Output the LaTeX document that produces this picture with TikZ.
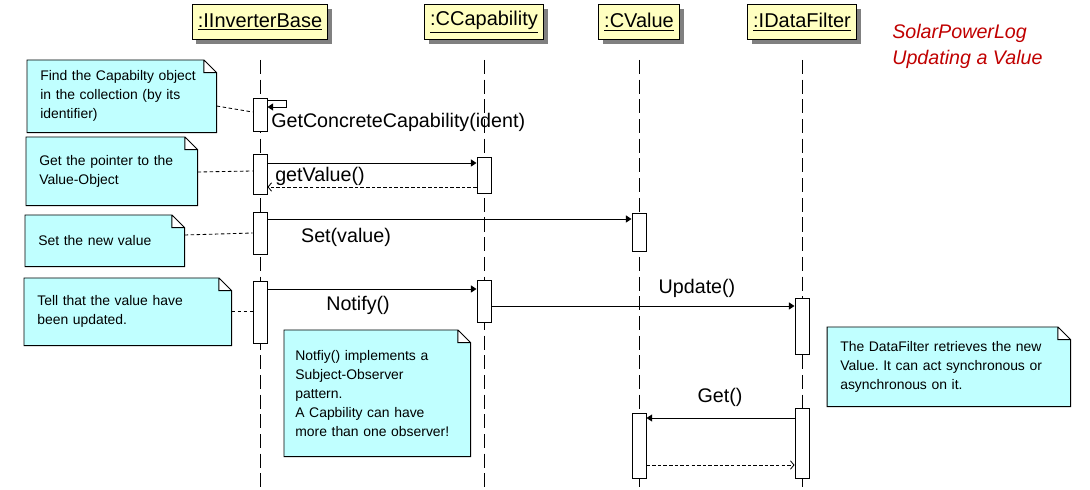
\documentclass[tikz,border=0pt]{standalone}
\usepackage{fontspec}
\setmainfont{Liberation Sans}
\usepackage{xcolor}
\usetikzlibrary{arrows.meta, positioning, shadows, backgrounds}
\frenchspacing

\definecolor{notecyan}{HTML}{C0FFFF}
\definecolor{headyellow}{HTML}{FFFFC0}
\definecolor{titlered}{HTML}{C00000}

\begin{document}
\begin{tikzpicture}[
  x=0.025cm, y=-0.025cm,
  obj/.style={rectangle, draw=black, fill=headyellow, line width=0.7pt, inner xsep=0.14cm, minimum height=0.875cm, font=\fontsize{14.2pt}{16pt}\selectfont, drop shadow={shadow xshift=3pt, shadow yshift=-3pt, fill=black!50, opacity=1}},
  lifeline/.style={line width=0.7pt, dash pattern=on 10pt off 4pt},
  act/.style={rectangle, draw=black, fill=white, line width=0.7pt, minimum width=0.35cm, inner sep=0pt, anchor=north},
  note/.style={rectangle, anchor=north west, inner xsep=0.325cm, inner ysep=0pt, align=left, font=\fontsize{9.9pt}{13.5pt}\selectfont},
  notebody/.style={fill=notecyan, draw=black, line width=0.7pt},
  lbl/.style={font=\fontsize{14pt}{16pt}\selectfont, inner sep=0pt},
  arrow/.style={line width=0.7pt, -{Triangle[length=4pt, width=5pt]}},
  reply/.style={line width=0.6pt, dash pattern=on 2.5pt off 1.5pt, -{Straight Barb[length=2.5pt, width=6pt]}},
  link/.style={line width=0.6pt, dash pattern=on 2.5pt off 1.8pt}
]
\useasboundingbox (0,0) rectangle (1090,490);

% Objects
\node (ib) [obj] at (260,22) {\underline{:IInverterBase}};
\node (cc) [obj] at (484,22) {\underline{:CCapability}};
\node (cv) [obj] at (639,22) {\underline{:CValue}};
\node (df) [obj] at (802,22) {\underline{:IDataFilter}};

\foreach \lf in {ib,cc,cv,df}
  \draw[lifeline] (\lf |- 0,60) -- (\lf |- 0,490);

% Activations
\node (ib1) [act, minimum height=0.825cm] at (260,98) {};
\node (ib2) [act, minimum height=1.0cm] at (260,154) {};
\node (ib3) [act, minimum height=1.05cm] at (260,212) {};
\node (ib4) [act, minimum height=1.55cm] at (260,281) {};
\node (cc1) [act, minimum height=0.9cm] at (484,157) {};
\node (cc2) [act, minimum height=1.05cm] at (484,280) {};
\node (cv1) [act, minimum height=0.95cm] at (639,213) {};
\node (cv2) [act, minimum height=1.625cm] at (639,413) {};
\node (df1) [act, minimum height=1.4cm] at (802,298) {};
\node (df2) [act, minimum height=1.75cm] at (802,408) {};

% Messages
\draw[arrow] (ib1.east |- 0,100) -- ++(19,0) -- ++(0,7) -- (ib1.east |- 0,107);
\node (getcc) [lbl, anchor=west] at (271,122) {GetConcreteCapability(ident)};

\draw[arrow] (ib2.east |- 0,163) -- (cc1.west |- 0,163);
\draw[reply] (cc1.west |- 0,187) -- (ib2.east |- 0,187);
\node (getv) [lbl, anchor=west] at (275,176) {getValue()};

\draw[arrow] (ib3.east |- 0,219) -- (cv1.west |- 0,219);
\node (setv) [lbl] at (346,237) {Set(value)};

\draw[arrow] (ib4.east |- 0,289) -- (cc2.west |- 0,289);
\node (notify) [lbl] at (358,305) {Notify()};
\draw[arrow] (cc2.east |- 0,306) -- (df1.west |- 0,306);
\node (update) [lbl] at (697,288) {Update()};

\draw[arrow] (df2.west |- 0,418) -- (cv2.east |- 0,418);
\node (get) [lbl] at (720,397) {Get()};
\draw[reply] (cv2.east |- 0,465) -- (df2.west |- 0,465);

% Notes
\node (n1) [note, text width=4.075cm, minimum height=1.8cm] at (27,60) {Find the Capabilty object\\in the collection (by its\\identifier)};
\node (n2) [note, text width=3.625cm, minimum height=1.7cm] at (26,137) {Get the pointer to the\\Value-Object};
\node (n3) [note, text width=3.325cm, minimum height=1.275cm] at (25,215) {Set the new value};
\node (n4) [note, text width=4.525cm, minimum height=1.675cm] at (24,278) {Tell that the value have\\been updated.};
\node (n5) [note, text width=4.1cm, inner xsep=0.275cm, minimum height=3.15cm] at (284,330) {Notfiy() implements a\\Subject-Observer\\pattern.\\A Capbility can have\\more than one observer!};
\node (n6) [note, text width=5.425cm, minimum height=1.975cm] at (827,327) {The DataFilter retrieves the new\\Value. It can act synchronous or\\asynchronous on it.};

\begin{scope}[on background layer]
\foreach \nb in {n1,n2,n3,n4,n5,n6}
  \draw[notebody] (\nb.south west) -- (\nb.north west) -- ([xshift=-9pt]\nb.north east) -- ([yshift=-9pt]\nb.north east) -- (\nb.south east) -- cycle
    ([xshift=-9pt]\nb.north east) -- ([xshift=-9pt, yshift=-9pt]\nb.north east) -- ([yshift=-9pt]\nb.north east);
\end{scope}

\draw[link] (n1.east |- 0,106) -- (ib1.west |- 0,112);
\draw[link] (n2.east |- 0,172) -- (ib2.west |- 0,171);
\draw[link] (n3.east |- 0,235) -- (ib3.west |- 0,233);
\draw[link] (n4.east |- 0,311) -- (ib4.west |- 0,311);

% Title
\node (title) [anchor=west, align=left, text=titlered, font=\itshape\fontsize{14pt}{18.5pt}\selectfont, inner sep=0pt] at (892,46) {SolarPowerLog\\Updating a Value};

\end{tikzpicture}
\end{document}
